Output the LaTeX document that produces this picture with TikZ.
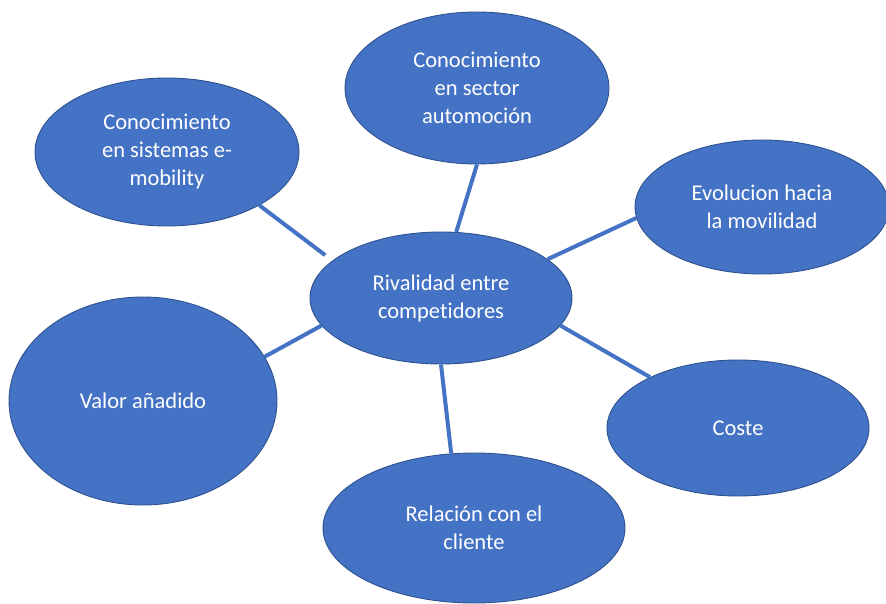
\documentclass[tikz,border=0pt]{standalone}
\usepackage{fontspec}
\setmainfont{Carlito}[Ligatures=NoCommon]
\usetikzlibrary{shapes.geometric}
\definecolor{bubblefill}{HTML}{4472C4}
\definecolor{bubbleedge}{HTML}{2F528F}
\begin{document}
\begin{tikzpicture}[x=1pt,y=-1pt,
    bubble/.style={ellipse,fill=bubblefill,draw=bubbleedge,line width=0.9pt,inner sep=0pt,
      text=white,align=center,font=\fontsize{22.5}{28}\selectfont},
    link/.style={draw=bubblefill,line width=4pt}]
            \useasboundingbox (0,0) rectangle (886,604);
            \node[bubble,minimum width=262,minimum height=132] (rival) at (441,298) {Rivalidad entre\\competidores};
            \node[bubble,minimum width=264,minimum height=152] (sector) at (477,88) {Conocimiento\\en sector\\automoción};
            \node[bubble,minimum width=264,minimum height=148] (emob) at (167,152) {Conocimiento\\en sistemas e-\\mobility};
            \node[bubble,minimum width=254,minimum height=134] (evol) at (762,207) {Evolucion hacia\\la movilidad};
            \node[bubble,minimum width=268,minimum height=208] (valor) at (143,401) {Valor añadido};
            \node[bubble,minimum width=262,minimum height=136] (coste) at (738,428) {Coste};
            \node[bubble,minimum width=302,minimum height=150] (cliente) at (474,528) {Relación con el\\cliente};
            \draw[link,shorten >=9pt] (emob.-30) -- (rival.161);
            \draw[link] (sector.-90) -- (rival.77);
            \draw[link] (evol.185) -- (rival.20);
            \draw[link] (valor.20) -- (rival.193);
            \draw[link] (coste.150) -- (rival.-13);
            \draw[link] (cliente.107) -- (rival.-90);
        \end{tikzpicture}
\end{document}
